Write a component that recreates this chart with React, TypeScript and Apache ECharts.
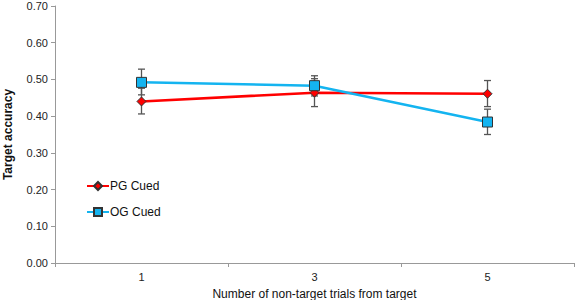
import React, { useEffect, useRef } from "react";
import * as echarts from "echarts";

const categories = ["1", "3", "5"];
const pgCued = [0.44, 0.464, 0.461];
const pgLow = [0.406, 0.426, 0.426];
const pgHigh = [0.476, 0.502, 0.497];
const ogCued = [0.492, 0.483, 0.384];
const ogLow = [0.458, 0.455, 0.35];
const ogHigh = [0.528, 0.51, 0.419];

function errorSeries(name: string, low: number[], high: number[]) {
  return {
    type: "custom",
    name,
    z: 1,
    silent: true,
    data: categories.map((_, i) => [i, low[i], high[i]]),
    renderItem: (params: any, api: any) => {
      const x = api.value(0);
      const lo = api.coord([x, api.value(1)]);
      const hi = api.coord([x, api.value(2)]);
      const cap = 3.5;
      const style = { stroke: "#555555", lineWidth: 1.3 };
      return {
        type: "group",
        children: [
          { type: "line", shape: { x1: lo[0], y1: lo[1], x2: hi[0], y2: hi[1] }, style },
          { type: "line", shape: { x1: lo[0] - cap, y1: lo[1], x2: lo[0] + cap, y2: lo[1] }, style },
          { type: "line", shape: { x1: hi[0] - cap, y1: hi[1], x2: hi[0] + cap, y2: hi[1] }, style },
        ],
      };
    },
  };
}

export default function App() {
  const ref = useRef<HTMLDivElement>(null);
  useEffect(() => {
    const chart = echarts.init(ref.current!, undefined, { renderer: "svg" });
    const font = "Liberation Sans, Arial, sans-serif";
    chart.setOption({
      animation: false,
      textStyle: { fontFamily: font },
      grid: { left: 55, right: 3, top: 6, bottom: 37, containLabel: false, outerBoundsMode: "none" },
      legend: {
        orient: "vertical",
        left: 81,
        top: 175,
        itemGap: 14,
        itemWidth: 22,
        itemHeight: 10,
        data: ["PG Cued", "OG Cued"],
        textStyle: { fontSize: 12, color: "#111", fontFamily: font, padding: [0, 0, 0, -4] },
      },
      xAxis: {
        type: "category",
        data: categories,
        boundaryGap: true,
        name: "Number of non-target trials from target",
        nameLocation: "middle",
        nameGap: 25,
        nameTextStyle: { fontSize: 12, color: "#111", fontFamily: font },
        axisLine: { lineStyle: { color: "#999999", width: 1 } },
        axisTick: { show: true, length: 4, lineStyle: { color: "#999999" } },
        axisLabel: { fontSize: 11, color: "#222", margin: 8, fontFamily: font },
      },
      yAxis: {
        type: "value",
        min: 0,
        max: 0.7,
        interval: 0.1,
        name: "Target accuracy",
        nameLocation: "middle",
        nameRotate: 90,
        nameGap: 41,
        nameTextStyle: { fontSize: 12, fontWeight: "bold", color: "#111", fontFamily: font },
        axisLine: { show: true, lineStyle: { color: "#999999", width: 1 } },
        axisTick: { show: true, length: 4, lineStyle: { color: "#999999" } },
        splitLine: { show: false },
        axisLabel: {
          fontSize: 11,
          color: "#222",
          margin: 7,
          fontFamily: font,
          formatter: (v: number) => v.toFixed(2),
        },
      },
      series: [
        errorSeries("pgErr", pgLow, pgHigh),
        errorSeries("ogErr", ogLow, ogHigh),
        {
          name: "PG Cued",
          type: "line",
          z: 3,
          data: pgCued,
          symbol: "diamond",
          symbolSize: 9,
          lineStyle: { color: "#FF0000", width: 2.5 },
          itemStyle: { color: "#FF0000", borderColor: "#333", borderWidth: 1 },
        },
        {
          name: "OG Cued",
          type: "line",
          z: 4,
          data: ogCued,
          symbol: "rect",
          symbolSize: 10,
          lineStyle: { color: "#14B4F0", width: 2.5 },
          itemStyle: { color: "#14B4F0", borderColor: "#333", borderWidth: 1 },
        },
      ],
    });
    return () => chart.dispose();
  }, []);
  return <div ref={ref} style={{ width: 577, height: 300, position: "absolute", left: 0, top: 0, background: "#fff" }} />;
}
